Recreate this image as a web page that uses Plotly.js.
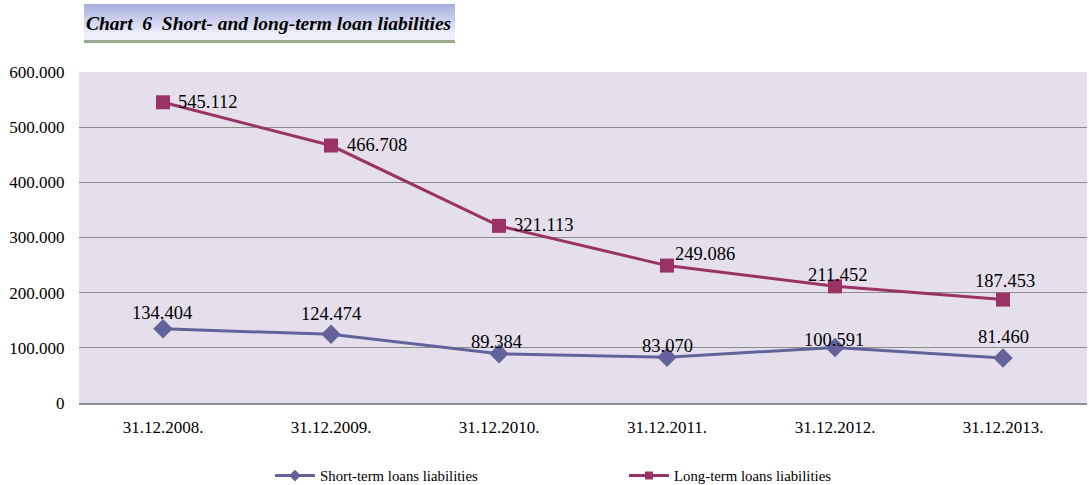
<!DOCTYPE html>
<html>
<head>
<meta charset="utf-8">
<script src="https://cdn.plot.ly/plotly-3.0.1.min.js"></script>
<style>html,body{margin:0;padding:0;background:#fff;}#chart{width:1089px;height:485px;}</style>
</head>
<body>
<div id="chart"></div>
<script>
const categories = ["31.12.2008.", "31.12.2009.", "31.12.2010.", "31.12.2011.", "31.12.2012.", "31.12.2013."];
const shortTerm = [134404, 124474, 89384, 83070, 100591, 81460];
const longTerm = [545112, 466708, 321113, 249086, 211452, 187453];
const yTickVals = [0, 100000, 200000, 300000, 400000, 500000, 600000];

function fmt(v) {
  return String(v).replace(/\B(?=(\d{3})+(?!\d))/g, ".");
}
const yTickText = yTickVals.map(fmt);

const serif = "Liberation Serif";
const shortColor = "#62639B", longColor = "#993366";

// label placement (style only: pixel offsets from each point)
const shortLabelDx = [-1, 0, -3, 0, -1, 0];
const shortLabelDy = [16, 20, 12, 11, 8, 21];
const longLabelAnchor = ["left", "left", "left", "center", "center", "center"];
const longLabelDx = [13, 14, 13, 38, 2, 2];
const longLabelDy = [0, 1, 1, 12, 11, 19];

const traces = [
  {
    name: "Short-term loans liabilities",
    x: categories, y: shortTerm,
    mode: "lines+markers",
    line: {color: shortColor, width: 3},
    marker: {symbol: "diamond", size: 15, color: shortColor},
    cliponaxis: false, showlegend: false
  },
  {
    name: "Long-term loans liabilities",
    x: categories, y: longTerm,
    mode: "lines+markers",
    line: {color: longColor, width: 3},
    marker: {symbol: "square", size: 14, color: longColor},
    cliponaxis: false, showlegend: false
  },
  {
    name: "Short-term loans liabilities",
    x: [categories[0]], y: [null],
    mode: "lines+markers",
    line: {color: shortColor, width: 3},
    marker: {symbol: "diamond", size: 9, color: shortColor},
    hoverinfo: "skip"
  },
  {
    name: "Long-term loans liabilities",
    x: [categories[0]], y: [null],
    mode: "lines+markers",
    line: {color: longColor, width: 3},
    marker: {symbol: "square", size: 8, color: longColor},
    hoverinfo: "skip"
  }
];

const labelFont = {family: serif, size: 18.5, color: "#000"};
const annotations = [];
categories.forEach((c, i) => {
  annotations.push({x: c, y: shortTerm[i], xref: "x", yref: "y", text: fmt(shortTerm[i]),
    showarrow: false, xanchor: "center", yanchor: "middle",
    xshift: shortLabelDx[i], yshift: shortLabelDy[i], font: labelFont});
  annotations.push({x: c, y: longTerm[i], xref: "x", yref: "y", text: fmt(longTerm[i]),
    showarrow: false, xanchor: longLabelAnchor[i], yanchor: "middle",
    xshift: longLabelDx[i], yshift: longLabelDy[i], font: labelFont});
});

const shapes = [];
const bx0 = 84, bx1 = 455, by0 = 4, by1 = 40;
const L = 79, T = 72, W = 1008, H = 331;
function px2x(p){return (p - L) / W;}
function py2y(p){return (T + H - p) / H;}
const gradTop = [168, 176, 224], gradBot = [236, 238, 250];
const n = 18;
for (let i = 0; i < n; i++) {
  const f = i / (n - 1);
  const c = gradTop.map((t, k) => Math.round(t + (gradBot[k] - t) * Math.min(1, f * 1.2)));
  shapes.push({type: "rect", xref: "paper", yref: "paper",
    x0: px2x(bx0), x1: px2x(bx1),
    y0: py2y(by0 + (by1 - by0) * (i + 1) / n), y1: py2y(by0 + (by1 - by0) * i / n),
    fillcolor: `rgb(${c[0]},${c[1]},${c[2]})`, line: {width: 0}, layer: "below"});
}
shapes.push({type: "rect", xref: "paper", yref: "paper",
  x0: px2x(bx0), x1: px2x(bx1), y0: py2y(43), y1: py2y(by1),
  fillcolor: "#9CAA90", line: {width: 0}, layer: "below"});

const layout = {
  width: 1089, height: 485,
  margin: {l: 79, r: 2, t: 72, b: 82, autoexpand: false},
  paper_bgcolor: "#ffffff",
  plot_bgcolor: "#E5DFEC",
  font: {family: serif, size: 17, color: "#000"},
  title: {
    text: "<b><i>Chart\u00a0 6\u00a0 Short- and long-term loan liabilities</i></b>",
    font: {family: serif, size: 19.5, color: "#000"},
    x: 86 / 1089, xanchor: "left", xref: "container",
    y: 1 - 23 / 485, yanchor: "middle", yref: "container"
  },
  xaxis: {
    type: "category",
    range: [-0.5, 5.5],
    showgrid: false,
    showline: true, linecolor: "#8C8C8C", linewidth: 2,
    ticks: "outside", ticklen: 8, tickcolor: "rgba(0,0,0,0)",
    tickfont: {family: serif, size: 17, color: "#000"},
    automargin: false, fixedrange: true
  },
  yaxis: {
    range: [0, 600000],
    tickvals: yTickVals, ticktext: yTickText,
    showgrid: true, gridcolor: "#8C8C8C", gridwidth: 1,
    zeroline: false, showline: false,
    ticks: "outside", ticklen: 10, tickcolor: "rgba(0,0,0,0)",
    tickfont: {family: serif, size: 17, color: "#000"},
    automargin: false, fixedrange: true
  },
  showlegend: true,
  legend: {
    orientation: "h",
    x: px2x(270), xanchor: "left",
    y: py2y(476), yanchor: "middle",
    entrywidth: 299, entrywidthmode: "pixels",
    font: {family: serif, size: 14.8, color: "#000"},
    bgcolor: "rgba(0,0,0,0)",
    itemwidth: 40
  },
  annotations: annotations,
  shapes: shapes
};

Plotly.newPlot("chart", traces, layout, {displayModeBar: false, staticPlot: true});
</script>
</body>
</html>
